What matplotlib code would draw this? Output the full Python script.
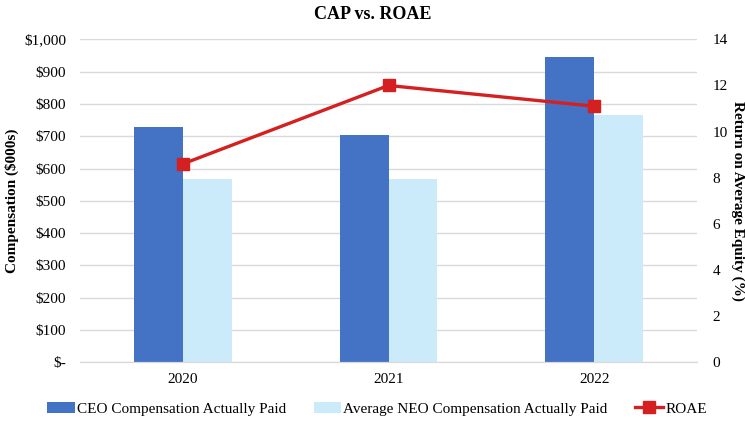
import matplotlib.pyplot as plt
import numpy as np
from matplotlib.ticker import FuncFormatter

years = ['2020', '2021', '2022']
ceo_cap = [728, 703, 944]
neo_cap = [567, 568, 765]
roae = [8.6, 12.0, 11.1]

plt.rcParams['font.family'] = ['Liberation Serif', 'DejaVu Serif']

fig = plt.figure(figsize=(7.45, 4.23), dpi=100)
ax = fig.add_axes([0.1074, 0.1435, 0.8282, 0.7635])
ax2 = ax.twinx()

x = np.arange(len(years))
w = 0.237
b1 = ax.bar(x - w / 2, ceo_cap, w, color='#4472C4', label='CEO Compensation Actually Paid', zorder=2)
b2 = ax.bar(x + w / 2, neo_cap, w, color='#CCEBFA', label='Average NEO Compensation Actually Paid', zorder=2)
ln, = ax2.plot(x, roae, color='#D42020', lw=2.4, marker='s', markersize=8, label='ROAE', zorder=3)

ax.set_xlim(-0.5, 2.5)
ax.set_ylim(0, 1000)
ax.set_yticks(range(0, 1001, 100))
ax.yaxis.set_major_formatter(FuncFormatter(lambda v, p: '$-' if v == 0 else f'${v:,.0f}'))
ax2.set_ylim(0, 14)
ax2.set_yticks(range(0, 15, 2))
ax.set_xticks(x)
ax.set_xticklabels(years)

ax.grid(axis='y', color='#d9d9d9', lw=1, zorder=0)
for a in (ax, ax2):
    for s in ('top', 'left', 'right'):
        a.spines[s].set_visible(False)
    a.spines['bottom'].set_color('#d9d9d9')
    a.tick_params(length=0, labelsize=11)
ax.tick_params(axis='y', pad=10)
ax.tick_params(axis='x', pad=8)
ax2.tick_params(axis='y', pad=11)

ax.set_ylabel('Compensation ($000s)', fontsize=11, fontweight='bold', labelpad=4)
ax2.set_ylabel('Return on Average Equity (%)', fontsize=11, fontweight='bold', rotation=270, labelpad=12)
fig.suptitle('CAP vs. ROAE', fontsize=13, fontweight='bold', y=0.985)

fig.legend(handles=[b1, b2, ln], loc='lower center', bbox_to_anchor=(0.506, -0.015), ncol=3,
           frameon=False, fontsize=11, handlelength=1.8, handletextpad=0.15, columnspacing=1.8)

fig.savefig('out.png', dpi=100)
